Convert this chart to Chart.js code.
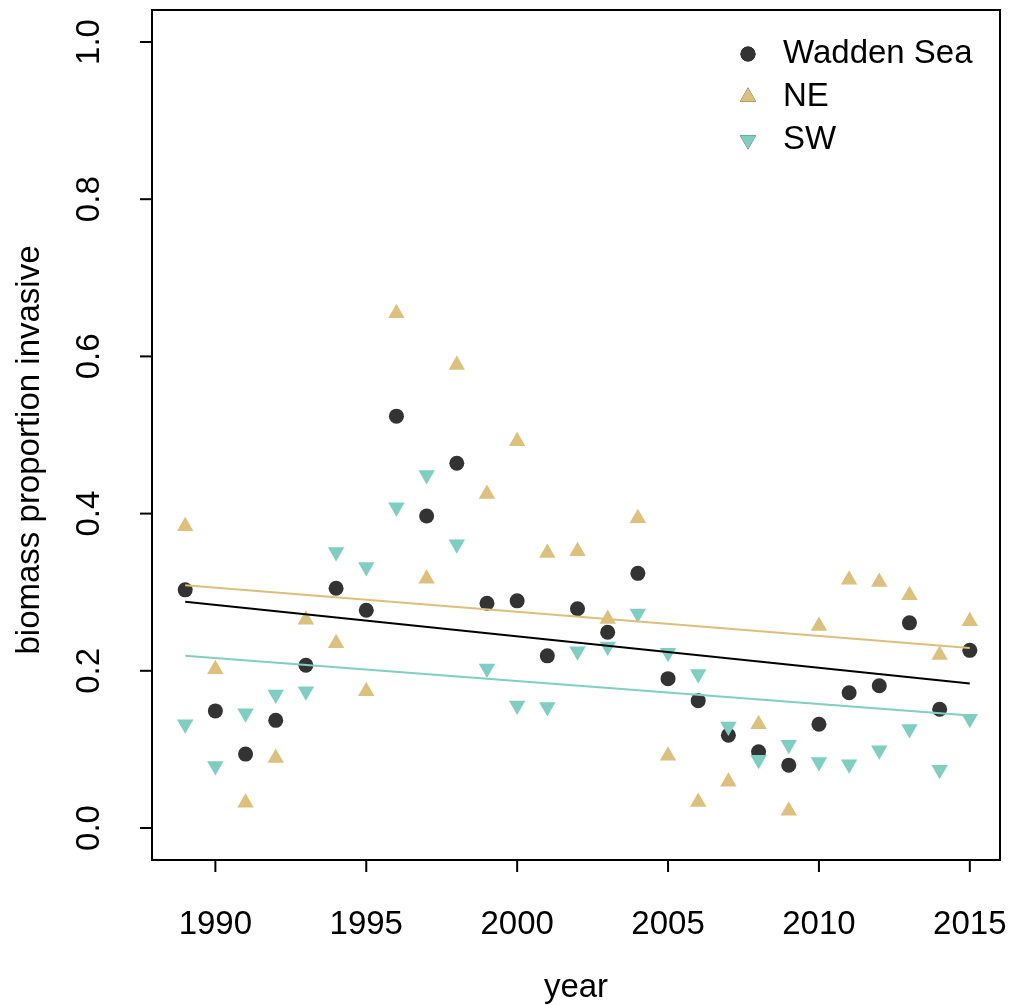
<!DOCTYPE html>
<html>
<head>
<meta charset="utf-8">
<script src="https://cdn.jsdelivr.net/npm/chart.js@4.4.0/dist/chart.umd.min.js"></script>
<style>
  html, body { margin: 0; padding: 0; background: #fff; }
  #wrap { width: 1012px; height: 1005px; }
</style>
</head>
<body>
<div id="wrap"><canvas id="chart"></canvas></div>
<script>
// data
const years = [1989,1990,1991,1992,1993,1994,1995,1996,1997,1998,1999,2000,2001,2002,
  2003,2004,2005,2006,2007,2008,2009,2010,2011,2012,2013,2014,2015];
const wadden = [0.303,0.149,0.094,0.137,0.207,0.305,0.277,0.524,0.397,0.464,0.286,0.289,0.219,0.279,
  0.249,0.324,0.190,0.162,0.118,0.097,0.080,0.132,0.172,0.181,0.261,0.151,0.226];
const ne = [0.384,0.202,0.032,0.089,0.265,0.235,0.174,0.655,0.317,0.589,0.425,0.492,0.350,0.352,
  0.266,0.394,0.092,0.033,0.059,0.132,0.022,0.257,0.316,0.313,0.296,0.220,0.263];
const sw = [0.132,0.079,0.146,0.170,0.174,0.351,0.332,0.408,0.449,0.361,0.203,0.156,0.154,0.225,
  0.231,0.273,0.223,0.196,0.129,0.087,0.106,0.084,0.081,0.099,0.126,0.074,0.139];
// fitted trend lines (endpoints)
const trendYears = [1989, 2015];
const waddenTrend = [0.288, 0.184];
const neTrend = [0.309, 0.229];
const swTrend = [0.219, 0.143];
const xTicks = [1990, 1995, 2000, 2005, 2010, 2015];
const yTicks = [0.0, 0.2, 0.4, 0.6, 0.8, 1.0];

const colBlack = '#333333', colNE = '#DEC07D', colSW = '#7ECFC2';
const FONT = '"Liberation Sans", Arial, sans-serif';

const pts = (ys) => years.map((x, i) => ({ x: x, y: ys[i] }));
const line = (ys) => trendYears.map((x, i) => ({ x: x, y: ys[i] }));

const legendItems = [
  { label: 'Wadden Sea', color: colBlack, style: 'circle', rot: 0, r: 7.5 },
  { label: 'NE', color: colNE, style: 'triangle', rot: 0, r: 9.5 },
  { label: 'SW', color: colSW, style: 'triangle', rot: 180, r: 9.5 }
];

// R-like frame, ticks, rotated y labels, axis titles and legend
const frame = {
  id: 'frame',
  afterDraw(chart) {
    const c = chart.ctx, a = chart.chartArea;
    const xs = chart.scales.x, ysc = chart.scales.y;
    c.save();
    c.strokeStyle = '#000'; c.lineWidth = 2;
    c.strokeRect(a.left, a.top, a.right - a.left, a.bottom - a.top);
    c.fillStyle = '#000';
    c.font = '33px ' + FONT;
    c.textAlign = 'center'; c.textBaseline = 'middle';
    xTicks.forEach(t => {
      const px = xs.getPixelForValue(t);
      c.beginPath(); c.moveTo(px, a.bottom); c.lineTo(px, a.bottom + 12); c.stroke();
      c.fillText(String(t), px, 925);
    });
    yTicks.forEach(t => {
      const py = ysc.getPixelForValue(t);
      c.beginPath(); c.moveTo(a.left, py); c.lineTo(a.left - 12, py); c.stroke();
      c.save(); c.translate(a.left - 62, py); c.rotate(-Math.PI / 2);
      c.fillText(t.toFixed(1), 0, 0); c.restore();
    });
    c.fillText('year', (a.left + a.right) / 2, 988);
    c.save(); c.translate(30, (a.top + a.bottom) / 2 + 15); c.rotate(-Math.PI / 2);
    c.fillText('biomass proportion invasive', 0, 0); c.restore();
    // legend
    c.textAlign = 'left';
    legendItems.forEach((it, i) => {
      const y = 54 + i * 43;
      Chart.helpers.drawPoint(c, { pointStyle: it.style, radius: it.r, rotation: it.rot, borderWidth: 0 }, 748, y);
      c.fillStyle = it.color; c.fill();
      c.fillStyle = '#000';
      c.fillText(it.label, 783, y);
    });
    c.restore();
  }
};

const scatterDs = (label, ys, color, style, rot, r) => ({
  type: 'scatter', label: label, data: pts(ys), pointStyle: style, rotation: rot,
  backgroundColor: color, borderColor: color, borderWidth: 0, pointRadius: r
});
const lineDs = (label, ys, color) => ({
  type: 'line', label: label, data: line(ys), borderColor: color, borderWidth: 2,
  pointRadius: 0, fill: false
});

new Chart(document.getElementById('chart'), {
  type: 'scatter',
  data: {
    datasets: [
      lineDs('NE trend', neTrend, '#DDBF7A'),
      lineDs('SW trend', swTrend, '#7FD0C0'),
      lineDs('Wadden trend', waddenTrend, '#000000'),
      scatterDs('NE', ne, colNE, 'triangle', 0, 9.5),
      scatterDs('SW', sw, colSW, 'triangle', 180, 9.5),
      scatterDs('Wadden Sea', wadden, colBlack, 'circle', 0, 7.5)
    ]
  },
  options: {
    responsive: true,
    maintainAspectRatio: false,
    animation: false,
    layout: { padding: { left: 152, top: 10, right: 12, bottom: 145 } },
    plugins: { legend: { display: false }, tooltip: { enabled: false } },
    scales: {
      x: { type: 'linear', min: 1987.9, max: 2016.0, display: false },
      y: { type: 'linear', min: -0.0407, max: 1.0407, display: false }
    }
  },
  plugins: [frame]
});
</script>
</body>
</html>
